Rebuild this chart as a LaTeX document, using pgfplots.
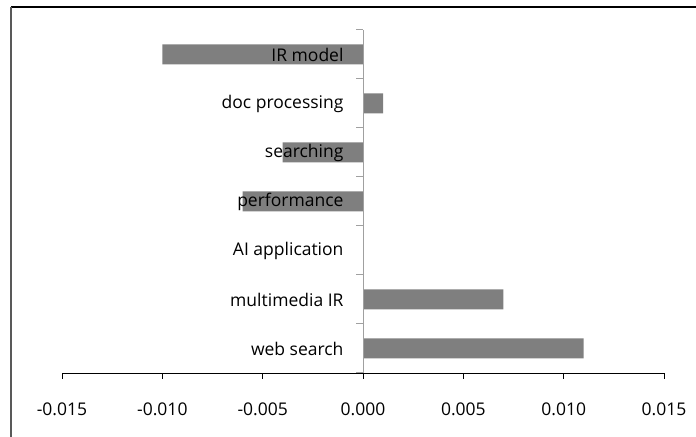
\documentclass[border=0pt]{standalone}
\usepackage{pgfplots}
\pgfplotsset{compat=1.18}
\usepackage{fontspec}
\setmainfont{Open Sans}
\definecolor{barg}{HTML}{7F7F7F}
\definecolor{axg}{HTML}{A0A0A0}
\begin{document}
\begin{tikzpicture}[x=1bp,y=1bp]
\useasboundingbox (0,0) rectangle (696,437);
\draw[black, line width=1.2bp] (11,430) -- (696,430);
\draw[black!65, line width=1.2bp] (11,430) -- (11,0);
\begin{axis}[
  at={(62bp,64bp)}, anchor=south west, scale only axis,
  width=602bp, height=343bp,
  xmin=-0.015, xmax=0.015, ymin=-0.5, ymax=6.5,
  axis on top,
  axis x line*=bottom, axis y line*=left,
  y axis line style={draw=none},
  x axis line style={black, line width=0.9bp, -},
  xtick={-0.015,-0.010,-0.005,0,0.005,0.010,0.015},
  scaled x ticks=false,
  xticklabel style={/pgf/number format/fixed, /pgf/number format/fixed zerofill, /pgf/number format/precision=3, yshift=-20bp},
  /pgf/number format/assume math mode=true,
  x tick style={black, line width=0.9bp},
  tick align=outside, major tick length=6bp,
  ytick={0,1,2,3,4,5,6},
  yticklabels={web search, multimedia IR, AI application, performance, searching, doc processing, IR model},
  y tick style={draw=none},
  yticklabel style={anchor=east, xshift=291bp},
  tick label style={font=\fontsize{17.5bp}{20bp}\selectfont},
  clip=false,
]
\addplot[xbar, bar width=20bp, fill=barg, draw=none] coordinates {
  (0.011,0) (0.007,1) (0,2) (-0.006,3) (-0.004,4) (0.001,5) (-0.010,6)};
\end{axis}
\draw[axg, line width=1bp] (363,64) -- (363,407);
\foreach \k in {0,...,7} \draw[axg, line width=1bp] (363,64+49*\k) -- ++(-7,0);
\end{tikzpicture}
\end{document}
